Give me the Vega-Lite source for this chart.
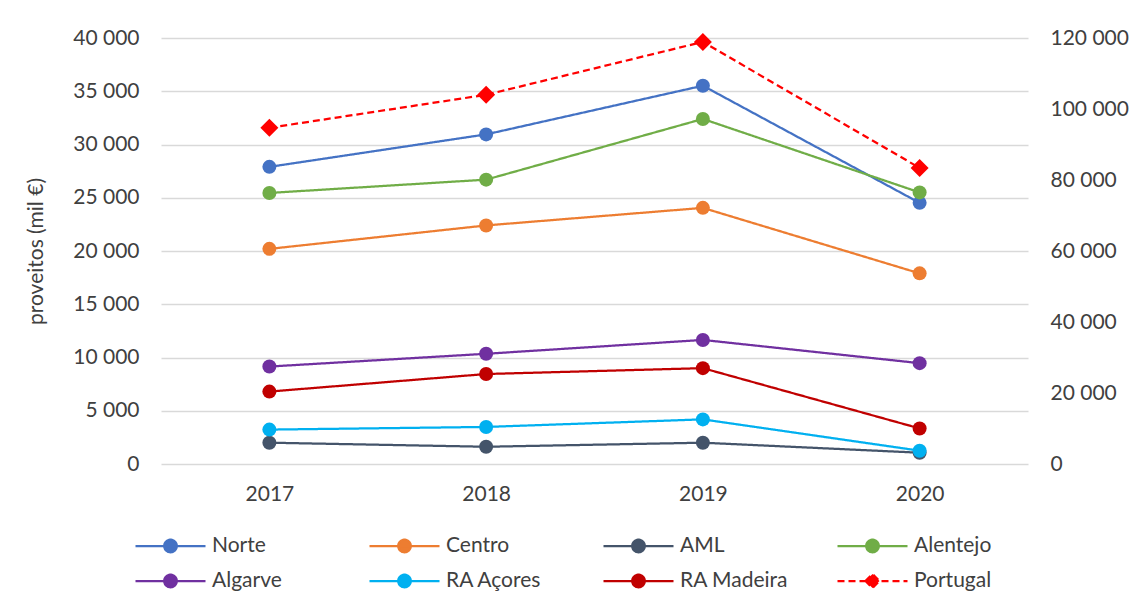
{
  "$schema": "https://vega.github.io/schema/vega-lite/v6.json",
  "width": 867,
  "height": 426,
  "autosize": {"type": "none"},
  "padding": {"left": 161, "top": 38, "right": 103, "bottom": 145},
  "background": "white",
  "config": {
    "font": "Lato",
    "view": {"stroke": null},
    "locale": {"number": {"decimal": ",", "thousands": " ", "grouping": [3], "currency": ["", " €"]}},
    "axis": {"labelFont": "Lato", "labelFontSize": 21, "labelColor": "#404040", "titleFont": "Lato", "titleColor": "#404040"}
  },
  "data": {
    "values": [
      {"ano": "2017", "serie": "Norte", "valor": 27900},
      {"ano": "2018", "serie": "Norte", "valor": 30950},
      {"ano": "2019", "serie": "Norte", "valor": 35520},
      {"ano": "2020", "serie": "Norte", "valor": 24520},
      {"ano": "2017", "serie": "Centro", "valor": 20200},
      {"ano": "2018", "serie": "Centro", "valor": 22400},
      {"ano": "2019", "serie": "Centro", "valor": 24050},
      {"ano": "2020", "serie": "Centro", "valor": 17900},
      {"ano": "2017", "serie": "AML", "valor": 2000},
      {"ano": "2018", "serie": "AML", "valor": 1620},
      {"ano": "2019", "serie": "AML", "valor": 2000},
      {"ano": "2020", "serie": "AML", "valor": 1060},
      {"ano": "2017", "serie": "Alentejo", "valor": 25450},
      {"ano": "2018", "serie": "Alentejo", "valor": 26700},
      {"ano": "2019", "serie": "Alentejo", "valor": 32400},
      {"ano": "2020", "serie": "Alentejo", "valor": 25500},
      {"ano": "2017", "serie": "Algarve", "valor": 9150},
      {"ano": "2018", "serie": "Algarve", "valor": 10350},
      {"ano": "2019", "serie": "Algarve", "valor": 11650},
      {"ano": "2020", "serie": "Algarve", "valor": 9470},
      {"ano": "2017", "serie": "RA Açores", "valor": 3230},
      {"ano": "2018", "serie": "RA Açores", "valor": 3480},
      {"ano": "2019", "serie": "RA Açores", "valor": 4190},
      {"ano": "2020", "serie": "RA Açores", "valor": 1250},
      {"ano": "2017", "serie": "RA Madeira", "valor": 6800},
      {"ano": "2018", "serie": "RA Madeira", "valor": 8450},
      {"ano": "2019", "serie": "RA Madeira", "valor": 9000},
      {"ano": "2020", "serie": "RA Madeira", "valor": 3340},
      {"ano": "2017", "serie": "Portugal", "valor": 94700},
      {"ano": "2018", "serie": "Portugal", "valor": 104000},
      {"ano": "2019", "serie": "Portugal", "valor": 118900},
      {"ano": "2020", "serie": "Portugal", "valor": 83400}
    ]
  },
  "encoding": {
    "x": {
      "field": "ano", "type": "ordinal",
      "axis": {"title": null, "labelAngle": 0, "domain": false, "ticks": false, "labelPadding": 19, "grid": false}
    }
  },
  "layer": [
    {
      "encoding": {
        "y": {
          "field": "valor", "type": "quantitative",
          "scale": {"domain": [0, 40000], "nice": false},
          "axis": {
            "orient": "left", "values": [0, 5000, 10000, 15000, 20000, 25000, 30000, 35000, 40000],
            "format": ",.0f", "grid": true, "gridColor": "#D9D9D9", "gridWidth": 1.5,
            "domain": false, "ticks": false, "labelPadding": 22,
            "title": "proveitos (mil €)", "titleFontSize": 21, "titleFontWeight": "normal", "titlePadding": 26
          }
        }
      },
      "layer": [
        {
          "transform": [{"filter": "datum.serie !== 'Portugal'"}],
          "mark": {"type": "line", "strokeWidth": 2.25},
          "encoding": {
            "color": {"field": "serie", "type": "nominal",
              "scale": {
                "domain": ["Norte", "Centro", "AML", "Alentejo", "Algarve", "RA Açores", "RA Madeira", "Portugal"],
                "range": ["#4472C4", "#ED7D31", "#44546A", "#70AD47", "#7030A0", "#00B0F0", "#C00000", "#FF0000"]
              }
            },
            "strokeDash": {"field": "serie", "type": "nominal",
              "scale": {
                "domain": ["Norte", "Centro", "AML", "Alentejo", "Algarve", "RA Açores", "RA Madeira", "Portugal"],
                "range": [[1, 0], [1, 0], [1, 0], [1, 0], [1, 0], [1, 0], [1, 0], [7, 4]]
              }
            }
          }
        },
        {
          "transform": [{"filter": "datum.serie !== 'Portugal'"}],
          "mark": {"type": "point", "filled": true, "opacity": 1, "shape": "circle", "size": 196},
          "encoding": {
            "color": {"field": "serie", "type": "nominal"}
          }
        },
        {
          "transform": [{"filter": "datum.valor < 0"}],
          "mark": {"type": "point", "filled": true, "opacity": 1, "strokeWidth": 2.25},
          "encoding": {
            "color": {"field": "serie", "type": "nominal",
              "legend": {
                "title": null, "orient": "none", "legendX": -27, "legendY": 498,
                "direction": "horizontal", "columns": 4, "gridAlign": "all",
                "columnPadding": 47, "rowPadding": 14, "clipHeight": 20,
                "symbolSize": 4900, "symbolStrokeWidth": 2.25, "labelOffset": 5,
                "labelFont": "Lato", "labelFontSize": 21, "labelColor": "#404040", "labelLimit": 200,
                "encode": {"symbols": {"update": {"stroke": {"scale": "color", "field": "value"}, "fill": {"scale": "color", "field": "value"}, "opacity": {"value": 1}}}}
              }
            },
            "shape": {"field": "serie", "type": "nominal",
              "scale": {
                "domain": ["Norte", "Centro", "AML", "Alentejo", "Algarve", "RA Açores", "RA Madeira", "Portugal"],
                "range": [
                  "M-1,0L1,0M-0.18,0A0.18,0.18,0,1,0,0.18,0A0.18,0.18,0,1,0,-0.18,0Z",
                  "M-1,0L1,0M-0.18,0A0.18,0.18,0,1,0,0.18,0A0.18,0.18,0,1,0,-0.18,0Z",
                  "M-1,0L1,0M-0.18,0A0.18,0.18,0,1,0,0.18,0A0.18,0.18,0,1,0,-0.18,0Z",
                  "M-1,0L1,0M-0.18,0A0.18,0.18,0,1,0,0.18,0A0.18,0.18,0,1,0,-0.18,0Z",
                  "M-1,0L1,0M-0.18,0A0.18,0.18,0,1,0,0.18,0A0.18,0.18,0,1,0,-0.18,0Z",
                  "M-1,0L1,0M-0.18,0A0.18,0.18,0,1,0,0.18,0A0.18,0.18,0,1,0,-0.18,0Z",
                  "M-1,0L1,0M-0.18,0A0.18,0.18,0,1,0,0.18,0A0.18,0.18,0,1,0,-0.18,0Z",
                  "M-1,0L1,0M-0.2,0L0,-0.2L0.2,0L0,0.2Z"
                ]
              }
            },
            "strokeDash": {"field": "serie", "type": "nominal"}
          }
        }
      ]
    },
    {
      "transform": [{"filter": "datum.serie === 'Portugal'"}],
      "encoding": {
        "y": {
          "field": "valor", "type": "quantitative",
          "scale": {"domain": [0, 120000], "nice": false},
          "axis": {
            "orient": "right", "values": [0, 20000, 40000, 60000, 80000, 100000, 120000],
            "format": ",.0f", "grid": false, "domain": false, "ticks": false, "labelPadding": 22, "title": null
          }
        },
        "color": {"field": "serie", "type": "nominal"}
      },
      "layer": [
        {
          "mark": {"type": "line", "strokeWidth": 2.25},
          "encoding": {"strokeDash": {"field": "serie", "type": "nominal"}}
        },
        {
          "mark": {"type": "point", "filled": true, "opacity": 1, "shape": "diamond", "size": 324}
        }
      ]
    }
  ],
  "resolve": {"scale": {"y": "independent"}}
}
